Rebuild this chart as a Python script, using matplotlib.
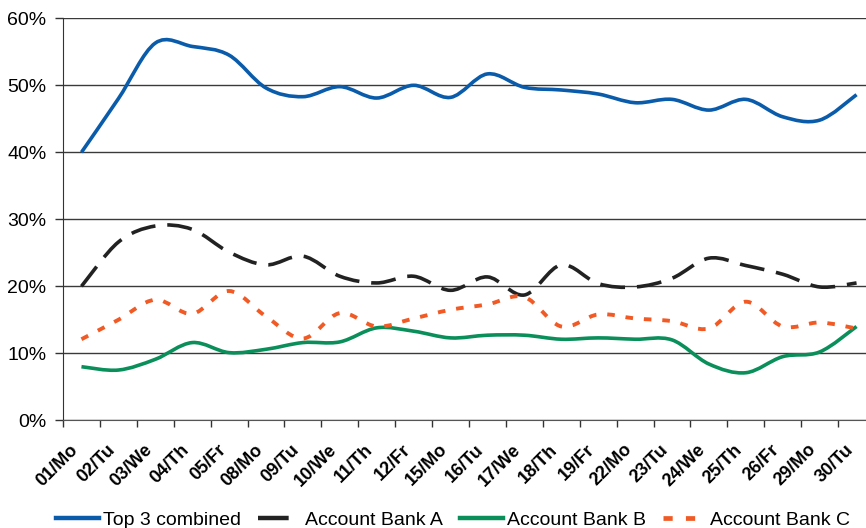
import numpy as np
import matplotlib
matplotlib.use("Agg")
import matplotlib.pyplot as plt
import matplotlib.transforms as mtransforms
from matplotlib.path import Path
from matplotlib.patches import PathPatch
from matplotlib.lines import Line2D
from matplotlib.ticker import FixedLocator, PercentFormatter

plt.rcParams['font.family'] = ['Liberation Sans', 'DejaVu Sans']

# ---- data (in %) ----
days = ['01/Mo', '02/Tu', '03/We', '04/Th', '05/Fr', '08/Mo', '09/Tu', '10/We',
        '11/Th', '12/Fr', '15/Mo', '16/Tu', '17/We', '18/Th', '19/Fr', '22/Mo',
        '23/Tu', '24/We', '25/Th', '26/Fr', '29/Mo', '30/Tu']

top3 = [40.0, 48.0, 56.3, 55.8, 54.5, 49.6, 48.3, 49.8, 48.1, 50.0, 48.2,
        51.7, 49.7, 49.3, 48.7, 47.4, 47.9, 46.3, 47.9, 45.3, 44.8, 48.6]
bank_a = [20.0, 26.6, 29.0, 28.5, 25.1, 23.2, 24.5, 21.5, 20.5, 21.5, 19.4,
          21.4, 18.7, 23.2, 20.4, 19.9, 21.2, 24.2, 23.1, 21.8, 19.9, 20.5]
bank_b = [8.0, 7.5, 9.1, 11.6, 10.1, 10.6, 11.6, 11.7, 13.8, 13.3, 12.3,
          12.7, 12.7, 12.1, 12.3, 12.1, 12.0, 8.4, 7.1, 9.5, 10.2, 14.0]
bank_c = [12.1, 15.0, 18.0, 15.9, 19.3, 15.5, 12.2, 16.0, 14.0, 15.2, 16.5,
          17.3, 18.4, 14.0, 15.8, 15.2, 14.8, 13.7, 17.7, 14.0, 14.6, 13.7]

series_names = ['Top 3 combined', 'Account Bank A', 'Account Bank B', 'Account Bank C']
series_vals = [top3, bank_a, bank_b, bank_c]
colors = ['#0a5cab', '#222222', '#0a8f5a', '#f15a24']
styles = ['-', (0, (6.9, 3.3)), '-', (0, (1.95, 2.8))]
widths = [2.6, 2.6, 2.6, 2.8]


def smooth_path(xs, ys):
    # excel-style smoothed line: cubic bezier through every point
    p = np.column_stack([xs, ys]).astype(float)
    n = len(p)
    verts = [p[0]]
    codes = [Path.MOVETO]
    for i in range(n - 1):
        p0 = p[i - 1] if i > 0 else p[i]
        p3 = p[i + 2] if i + 2 < n else p[i + 1]
        c1 = p[i] + (p[i + 1] - p0) / 6.0
        c2 = p[i + 1] - (p3 - p[i]) / 6.0
        verts += [c1, c2, p[i + 1]]
        codes += [Path.CURVE4] * 3
    return Path(verts, codes)


fig = plt.figure(figsize=(8.66, 5.28), dpi=100)
ax = fig.add_axes([63 / 866, 107.7 / 528, 812 / 866, 402 / 528])

x = np.arange(len(days))
for name, vals, c, ls, lw in zip(series_names, series_vals, colors, styles, widths):
    patch = PathPatch(smooth_path(x, vals), fill=False, edgecolor=c,
                      linewidth=lw, linestyle=ls, capstyle='butt',
                      joinstyle='round', zorder=3)
    ax.add_patch(patch)

ax.set_xlim(-0.5, len(days) - 0.5)
ax.set_ylim(0, 60)
ax.set_yticks(np.arange(0, 61, 10))
ax.yaxis.set_major_formatter(PercentFormatter(decimals=0))
ax.yaxis.grid(True, color='#3a3a3a', linewidth=1.0, zorder=1)
ax.set_axisbelow(True)

ax.set_xticks(x)
ax.set_xticklabels(days, rotation=45, ha='right', va='top',
                   fontsize=13, fontweight='bold')
# nudge the slanted labels a little left, like the original
shift = mtransforms.ScaledTranslation(-0.04, 0, fig.dpi_scale_trans)
for lab in ax.get_xticklabels():
    lab.set_transform(lab.get_transform() + shift)
ax.xaxis.set_minor_locator(FixedLocator(np.arange(-0.5, len(days), 1.0)))
ax.tick_params(axis='x', which='major', length=0, pad=15)
ax.tick_params(axis='x', which='minor', length=5, width=1, color='#333333')
ax.tick_params(axis='y', length=6, width=1, color='#333333', labelsize=14, pad=6)

for s in ['top', 'right']:
    ax.spines[s].set_visible(False)
ax.spines['left'].set_color('#333333')
ax.spines['bottom'].set_color('#555555')

handles = [Line2D([], [], color=c, linewidth=lw + 0.6, linestyle=ls)
           for c, ls, lw in zip(colors, styles, widths)]
fig.legend(handles, series_names, loc='center', bbox_to_anchor=(453 / 866, 1 - 520 / 528),
           ncol=4, frameon=False, fontsize=14, handlelength=2.2, handletextpad=0.2,
           columnspacing=0.9, borderpad=0)

fig.savefig('out.png', dpi=100)
